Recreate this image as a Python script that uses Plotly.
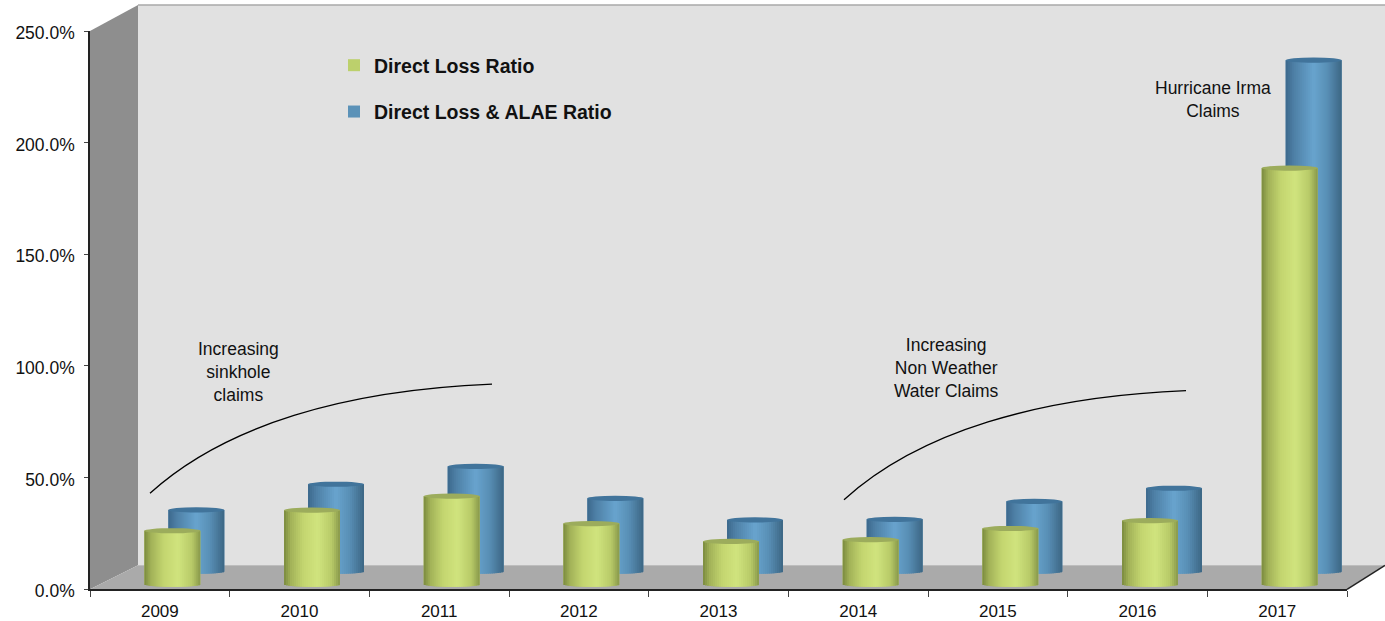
import math
import plotly.graph_objects as go

years = ["2009", "2010", "2011", "2012", "2013", "2014", "2015", "2016", "2017"]
direct_loss = [24.0, 33.2, 39.5, 27.2, 19.2, 20.0, 25.0, 28.5, 186.5]
direct_loss_alae = [27.5, 39.0, 47.0, 32.7, 23.0, 23.3, 31.3, 37.2, 229.0]
y_ticks = [0, 50, 100, 150, 200, 250]
y_labels = ["0.0%", "50.0%", "100.0%", "150.0%", "200.0%", "250.0%"]

W, H = 1385, 621
L, R, T, B = 90, 1347, 31, 588.7
SLOT = (R - L) / len(years)
UNIT = (B - T) / 250
FONT = "Liberation Sans, Arial, sans-serif"
BAR_W = 56 / SLOT
RY = 2.6 / UNIT
N = 28


def px(x):
    return (x - L) / (R - L)


def py(y):
    return (B - y) / (B - T)


def mix(stops, t):
    for (a, ca), (b, cb) in zip(stops, stops[1:]):
        if t <= b:
            f = (t - a) / (b - a)
            return "rgb(%d,%d,%d)" % tuple(round(p + (q - p) * f) for p, q in zip(ca, cb))
    return "rgb(%d,%d,%d)" % stops[-1][1]


GREEN = [(0, (122, 138, 62)), (0.12, (162, 178, 88)), (0.35, (196, 214, 112)),
         (0.6, (208, 228, 126)), (0.85, (184, 202, 104)), (1, (136, 152, 74))]
BLUE = [(0, (60, 104, 140)), (0.15, (78, 128, 166)), (0.5, (104, 164, 206)),
        (0.75, (88, 142, 180)), (1, (60, 102, 132))]


def series(name, values, center, depth, stops, swatch, cap, rank):
    xs, ys, bases, offs, widths, cols = [], [], [], [], [], []
    for yr, v in zip(years, values):
        xs.append(yr)
        ys.append(v)
        bases.append(depth)
        offs.append(center - BAR_W / 2)
        widths.append(BAR_W)
        cols.append(swatch)
    sw = BAR_W / N
    overlap = 1.5 / SLOT
    for yr, v in zip(years, values):
        for i in range(N):
            t = (i + 0.5) / N
            sag = RY * math.sqrt(max(0, 1 - (2 * t - 1) ** 2))
            xs.append(yr)
            ys.append(v + sag)
            bases.append(depth - sag)
            offs.append(center - BAR_W / 2 + i * sw)
            widths.append(min(sw + overlap, BAR_W - i * sw))
            cols.append(mix(stops, t))
    trace = go.Bar(x=xs, y=ys, base=bases, offset=offs, width=widths, name=name,
                   legendgroup=name, legendrank=rank,
                   marker=dict(color=cols, line=dict(width=0)), hoverinfo="skip")
    caps = []
    for k, v in enumerate(values):
        caps.append(dict(type="circle", xref="x", yref="y", layer="above",
                         x0=k + center - BAR_W / 2, x1=k + center + BAR_W / 2,
                         y0=depth + v - RY, y1=depth + v + RY,
                         fillcolor=cap, line=dict(width=0)))
    return trace, caps


t_blue, caps_blue = series("Direct Loss & ALAE Ratio", direct_loss_alae, 36.5 / SLOT, 17.7 / UNIT,
                           BLUE, "#5b92b8", "#41749b", 2)
t_green, caps_green = series("Direct Loss Ratio", direct_loss, 12.5 / SLOT, 4.7 / UNIT,
                             GREEN, "#bcd06c", "#9cac5c", 1)


def poly(points, fill):
    path = "M " + " L ".join("%.5f,%.5f" % (px(x), py(y)) for x, y in points) + " Z"
    return dict(type="path", xref="paper", yref="paper", path=path, fillcolor=fill,
                line=dict(width=0), layer="below")


def curve(dx, dy):
    p = [(150, 493), (225, 425), (345, 390), (492, 384)]
    pts = [(px(x + dx), py(y + dy)) for x, y in p]
    path = "M %.5f,%.5f C %.5f,%.5f %.5f,%.5f %.5f,%.5f" % tuple(c for q in pts for c in q)
    return dict(type="path", xref="paper", yref="paper", path=path,
                line=dict(color="black", width=1.3), layer="above")


def seg(x0, y0, x1, y1, color, width):
    return dict(type="line", xref="paper", yref="paper", x0=px(x0), y0=py(y0), x1=px(x1), y1=py(y1),
                line=dict(color=color, width=width), layer="below")


shapes = [
    poly([(138, 5), (1385, 5), (1385, 565), (138, 565)], "#e1e1e1"),
    poly([(90, 31), (138, 5), (138, 565), (90, 589)], "#8e8e8e"),
    poly([(90, 589), (138, 565), (1385, 565), (1347, 589)], "#aaaaaa"),
    seg(138, 5, 1385, 5, "#a8a8a8", 1.5),
    seg(1347, 589, 1385, 565, "#222222", 1.5),
    curve(0, 0),
    curve(694, 6.5),
] + caps_blue + caps_green


def note(text, x, y):
    return dict(text=text, xref="paper", yref="paper", x=px(x), y=py(y), xanchor="center",
                yanchor="middle", align="center", showarrow=False,
                font=dict(family=FONT, size=17.5, color="#111111"))


annotations = [
    note("Increasing<br>sinkhole<br>claims", 238, 372),
    note("Increasing<br>Non Weather<br>Water Claims", 946, 368),
    note("Hurricane Irma<br>Claims", 1213, 99),
]

fig = go.Figure([t_blue, t_green])
fig.update_layout(
    width=W, height=H, autosize=False,
    margin=dict(l=L, r=W - R, t=T, b=H - B, pad=0),
    paper_bgcolor="white", plot_bgcolor="rgba(0,0,0,0)",
    barmode="overlay", shapes=shapes, annotations=annotations,
    showlegend=True,
    legend=dict(x=px(334), y=py(46), xanchor="left", yanchor="top", bgcolor="rgba(0,0,0,0)",
                traceorder="grouped", tracegroupgap=18,
                font=dict(family=FONT, size=19.5, color="#111111", weight="bold")),
    xaxis=dict(type="category", categoryorder="array", categoryarray=years, automargin=False,
               range=[-0.5, 8.5], tickson="boundaries", ticks="outside", ticklen=6, tickcolor="#444444",
               ticklabelstandoff=6,
               showgrid=False, zeroline=False, showline=True, linecolor="#222222", linewidth=1.5,
               tickfont=dict(family=FONT, size=17, color="#111111")),
    yaxis=dict(range=[0, 250], tickvals=y_ticks, ticktext=y_labels, ticks="outside", ticklen=4,
               automargin=False, ticklabelstandoff=6, ticklabelshift=2,
               tickcolor="#444444", showgrid=False, zeroline=False, showline=True,
               linecolor="#222222", linewidth=1.5,
               tickfont=dict(family=FONT, size=17.5, color="#111111")),
)
fig.write_html("out.html", config={"displayModeBar": False},
               post_script="document.body.style.margin='0';")
